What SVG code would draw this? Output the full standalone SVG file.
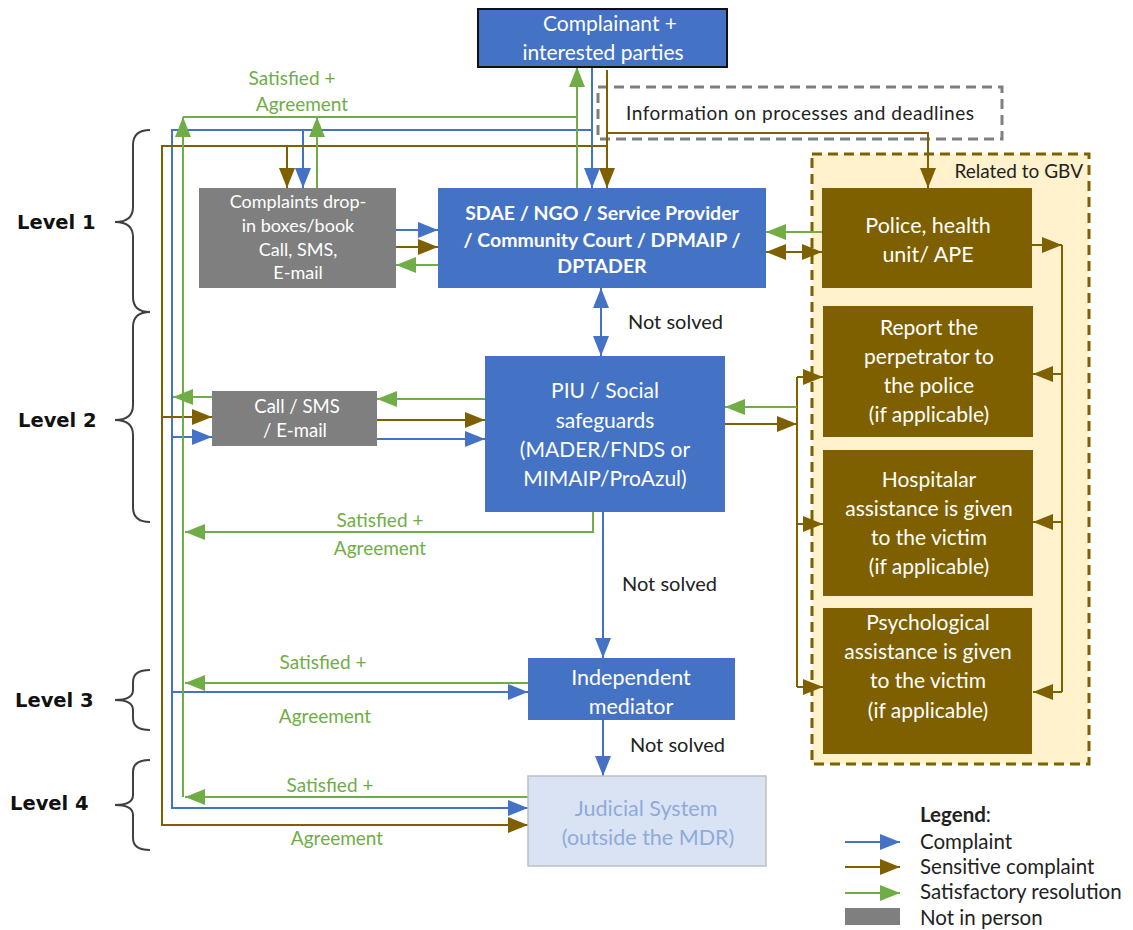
<svg xmlns="http://www.w3.org/2000/svg" width="1133" height="930" viewBox="0 0 1133 930">
<style>
.t{font-family:Lato,"Open Sans","Liberation Sans",sans-serif;}
.w{fill:#ffffff;text-anchor:middle;}
.g{fill:#70AD47;font-size:19px;text-anchor:middle;}
.k{fill:#222222;font-size:20px;}
.lg{fill:#222222;font-size:20.5px;}
.lv{font-family:"DejaVu Sans",sans-serif;font-weight:bold;font-size:19.5px;fill:#111111;}
.cb{stroke:#4472C4;stroke-width:2;fill:none;}
.cr{stroke:#7F6000;stroke-width:2;fill:none;}
.cg{stroke:#70AD47;stroke-width:2;fill:none;}
.br{stroke:#404040;stroke-width:2;fill:none;}
</style>
<defs>
<marker id="ab" markerUnits="userSpaceOnUse" markerWidth="22" markerHeight="18" refX="20" refY="8" orient="auto-start-reverse"><path d="M0,0 L20,8 L0,16 z" fill="#4472C4"/></marker>
<marker id="ar" markerUnits="userSpaceOnUse" markerWidth="22" markerHeight="18" refX="20" refY="8" orient="auto-start-reverse"><path d="M0,0 L20,8 L0,16 z" fill="#7F6000"/></marker>
<marker id="ag" markerUnits="userSpaceOnUse" markerWidth="22" markerHeight="18" refX="20" refY="8" orient="auto-start-reverse"><path d="M0,0 L20,8 L0,16 z" fill="#70AD47"/></marker>
</defs>
<rect width="1133" height="930" fill="#ffffff"/>

<g id="gbv-group">
<rect x="812" y="154" width="277" height="610" fill="#FFF2CC" stroke="#7F6000" stroke-width="3" stroke-dasharray="10,6"/>
<text class="t" x="1083" y="178" font-size="19" fill="#222" text-anchor="end">Related to GBV</text>
</g>

<g id="info-box">
<rect x="598" y="87" width="404" height="52" fill="none" stroke="#7F7F7F" stroke-width="3" stroke-dasharray="10,6"/>
<text class="t" x="626" y="120" font-size="19" fill="#222" textLength="348">Information on processes and deadlines</text>
</g>

<g id="connectors">
<!-- blue: complaint -->
<path class="cb" d="M592,67 V188" marker-end="url(#ab)"/>
<path class="cb" d="M592,130 H172 V808 H528" marker-end="url(#ab)"/>
<path class="cb" d="M303,130 V188" marker-end="url(#ab)"/>
<path class="cb" d="M396,230 H438" marker-end="url(#ab)"/>
<path class="cb" d="M601,288 V356" marker-start="url(#ab)" marker-end="url(#ab)"/>
<path class="cb" d="M172,437 H212" marker-end="url(#ab)"/>
<path class="cb" d="M377,439 H485" marker-end="url(#ab)"/>
<path class="cb" d="M603,512 V658" marker-end="url(#ab)"/>
<path class="cb" d="M172,692 H528" marker-end="url(#ab)"/>
<path class="cb" d="M603,720 V776" marker-end="url(#ab)"/>
<!-- brown: sensitive complaint -->
<path class="cr" d="M607,70 V188" marker-end="url(#ar)"/>
<path class="cr" d="M607,146 H162 V825 H528" marker-end="url(#ar)"/>
<path class="cr" d="M287,146 V188" marker-end="url(#ar)"/>
<path class="cr" d="M607,133 H928 V188" marker-end="url(#ar)"/>
<path class="cr" d="M396,247 H438" marker-end="url(#ar)"/>
<path class="cr" d="M766,252 H822" marker-start="url(#ar)" marker-end="url(#ar)"/>
<path class="cr" d="M1032,245 H1062" marker-end="url(#ar)"/>
<path class="cr" d="M1062,245 V692"/>
<path class="cr" d="M1062,374 H1033" marker-end="url(#ar)"/>
<path class="cr" d="M1062,522 H1033" marker-end="url(#ar)"/>
<path class="cr" d="M1062,692 H1033" marker-end="url(#ar)"/>
<path class="cr" d="M162,417 H212" marker-end="url(#ar)"/>
<path class="cr" d="M377,420 H485" marker-end="url(#ar)"/>
<path class="cr" d="M725,424 H797" marker-end="url(#ar)"/>
<path class="cr" d="M797,377 V687"/>
<path class="cr" d="M797,377 H823" marker-end="url(#ar)"/>
<path class="cr" d="M797,524 H823" marker-end="url(#ar)"/>
<path class="cr" d="M797,687 H823" marker-end="url(#ar)"/>
<!-- green: satisfactory resolution -->
<path class="cg" d="M577,188 V67" marker-end="url(#ag)"/>
<path class="cg" d="M183,117 H577"/>
<path class="cg" d="M183,797 V117" marker-end="url(#ag)"/>
<path class="cg" d="M317,188 V117" marker-end="url(#ag)"/>
<path class="cg" d="M438,265 H396" marker-end="url(#ag)"/>
<path class="cg" d="M822,232 H766" marker-end="url(#ag)"/>
<path class="cg" d="M485,399 H377" marker-end="url(#ag)"/>
<path class="cg" d="M212,397 H173" marker-end="url(#ag)"/>
<path class="cg" d="M797,407 H725" marker-end="url(#ag)"/>
<path class="cg" d="M593,512 V532 H185" marker-end="url(#ag)"/>
<path class="cg" d="M528,683 H185" marker-end="url(#ag)"/>
<path class="cg" d="M528,797 H185" marker-end="url(#ag)"/>
</g>

<g id="complainant">
<rect x="478" y="9" width="249" height="58" fill="#4472C4" stroke="#111" stroke-width="2"/>
<text class="t w" x="610" y="31" font-size="21">Complainant +</text>
<text class="t w" x="603" y="60" font-size="21">interested parties</text>
</g>

<g id="drop-in">
<rect x="199" y="188" width="197" height="100" fill="#7F7F7F"/>
<text class="t w" x="298" y="208" font-size="18">Complaints drop-</text>
<text class="t w" x="298" y="232" font-size="18">in boxes/book</text>
<text class="t w" x="298" y="256" font-size="18">Call, SMS,</text>
<text class="t w" x="298" y="279" font-size="18">E-mail</text>
</g>

<g id="sdae">
<rect x="438" y="188" width="328" height="100" fill="#4472C4"/>
<text class="t w" x="602" y="220" font-size="19.5" font-weight="bold">SDAE / NGO / Service Provider</text>
<text class="t w" x="602" y="247" font-size="19.5" font-weight="bold">/ Community Court / DPMAIP /</text>
<text class="t w" x="602" y="273" font-size="19.5" font-weight="bold">DPTADER</text>
</g>

<g id="police">
<rect x="822" y="188" width="210" height="100" fill="#7F6000"/>
<text class="t w" x="928" y="233" font-size="21.5">Police, health</text>
<text class="t w" x="928" y="262" font-size="21.5">unit/ APE</text>
</g>

<g id="report">
<rect x="823" y="306" width="210" height="131" fill="#7F6000"/>
<text class="t w" x="929" y="335" font-size="21">Report the</text>
<text class="t w" x="929" y="364" font-size="21">perpetrator  to</text>
<text class="t w" x="929" y="393" font-size="21">the police</text>
<text class="t w" x="929" y="422" font-size="21">(if applicable)</text>
</g>

<g id="hospitalar">
<rect x="823" y="450" width="210" height="146" fill="#7F6000"/>
<text class="t w" x="929" y="487" font-size="21">Hospitalar</text>
<text class="t w" x="929" y="516" font-size="21">assistance is given</text>
<text class="t w" x="929" y="545" font-size="21">to the victim</text>
<text class="t w" x="929" y="574" font-size="21">(if applicable)</text>
</g>

<g id="psychological">
<rect x="823" y="608" width="209" height="146" fill="#7F6000"/>
<text class="t w" x="928" y="630" font-size="21">Psychological</text>
<text class="t w" x="928" y="659" font-size="21">assistance is given</text>
<text class="t w" x="928" y="688" font-size="21">to the victim</text>
<text class="t w" x="928" y="718" font-size="21">(if applicable)</text>
</g>

<g id="call-sms">
<rect x="212" y="391" width="165" height="55" fill="#7F7F7F"/>
<text class="t w" x="297" y="413" font-size="18.5">Call / SMS</text>
<text class="t w" x="295" y="437" font-size="18.5">/ E-mail</text>
</g>

<g id="piu">
<rect x="485" y="356" width="240" height="156" fill="#4472C4"/>
<text class="t w" x="605" y="398" font-size="21">PIU / Social</text>
<text class="t w" x="605" y="428" font-size="21">safeguards</text>
<text class="t w" x="605" y="457" font-size="21">(MADER/FNDS or</text>
<text class="t w" x="605" y="486" font-size="21">MIMAIP/ProAzul)</text>
</g>

<g id="mediator">
<rect x="528" y="658" width="207" height="62" fill="#4472C4"/>
<text class="t w" x="631" y="685" font-size="21.5">Independent</text>
<text class="t w" x="631" y="714" font-size="21.5">mediator</text>
</g>

<g id="judicial">
<rect x="528" y="776" width="238" height="90" fill="#DAE3F3" stroke="#BFBFBF" stroke-width="1.5"/>
<text x="646" y="816" font-size="21.5" class="t" fill="#8FAADC" text-anchor="middle">Judicial System</text>
<text x="648" y="845" font-size="21.5" class="t" fill="#8FAADC" text-anchor="middle">(outside the MDR)</text>
</g>

<g id="labels">
<text class="t g" x="292" y="85">Satisfied +</text>
<text class="t g" x="302" y="111">Agreement</text>
<text class="t k" x="628" y="329">Not solved</text>
<text class="t g" x="380" y="527">Satisfied +</text>
<text class="t g" x="380" y="555">Agreement</text>
<text class="t k" x="622" y="591">Not solved</text>
<text class="t g" x="323" y="669">Satisfied +</text>
<text class="t g" x="325" y="723">Agreement</text>
<text class="t k" x="630" y="752">Not solved</text>
<text class="t g" x="330" y="792">Satisfied +</text>
<text class="t g" x="337" y="845">Agreement</text>
</g>

<g id="levels">
<text class="lv" x="17" y="229">Level 1</text>
<path class="br" d="M150,130 Q133,130 133,145 V207 Q133,222 115,222 Q133,222 133,237 V297 Q133,312 150,312"/>
<text class="lv" x="18" y="427">Level 2</text>
<path class="br" d="M150,312 Q133,312 133,327 V405 Q133,420 115,420 Q133,420 133,435 V507 Q133,522 150,522"/>
<text class="lv" x="15" y="707">Level 3</text>
<path class="br" d="M150,670 Q133,670 133,682 V690 Q133,700 115,700 Q133,700 133,710 V718 Q133,730 150,730"/>
<text class="lv" x="10" y="810">Level 4</text>
<path class="br" d="M150,760 Q133,760 133,772 V795 Q133,805 115,805 Q133,805 133,815 V838 Q133,850 150,850"/>
</g>

<g id="legend">
<text class="t lg" x="920" y="822"><tspan font-weight="bold">Legend</tspan>:</text>
<path class="cb" d="M845,842 H900" marker-end="url(#ab)"/>
<text class="t lg" x="920" y="849">Complaint</text>
<path class="cr" d="M845,867 H900" marker-end="url(#ar)"/>
<text class="t lg" x="920" y="874">Sensitive complaint</text>
<path class="cg" d="M845,893 H900" marker-end="url(#ag)"/>
<text class="t lg" x="920" y="899">Satisfactory resolution</text>
<rect x="845" y="908" width="55" height="17" fill="#7F7F7F"/>
<text class="t lg" x="920" y="925">Not in person</text>
</g>
</svg>
